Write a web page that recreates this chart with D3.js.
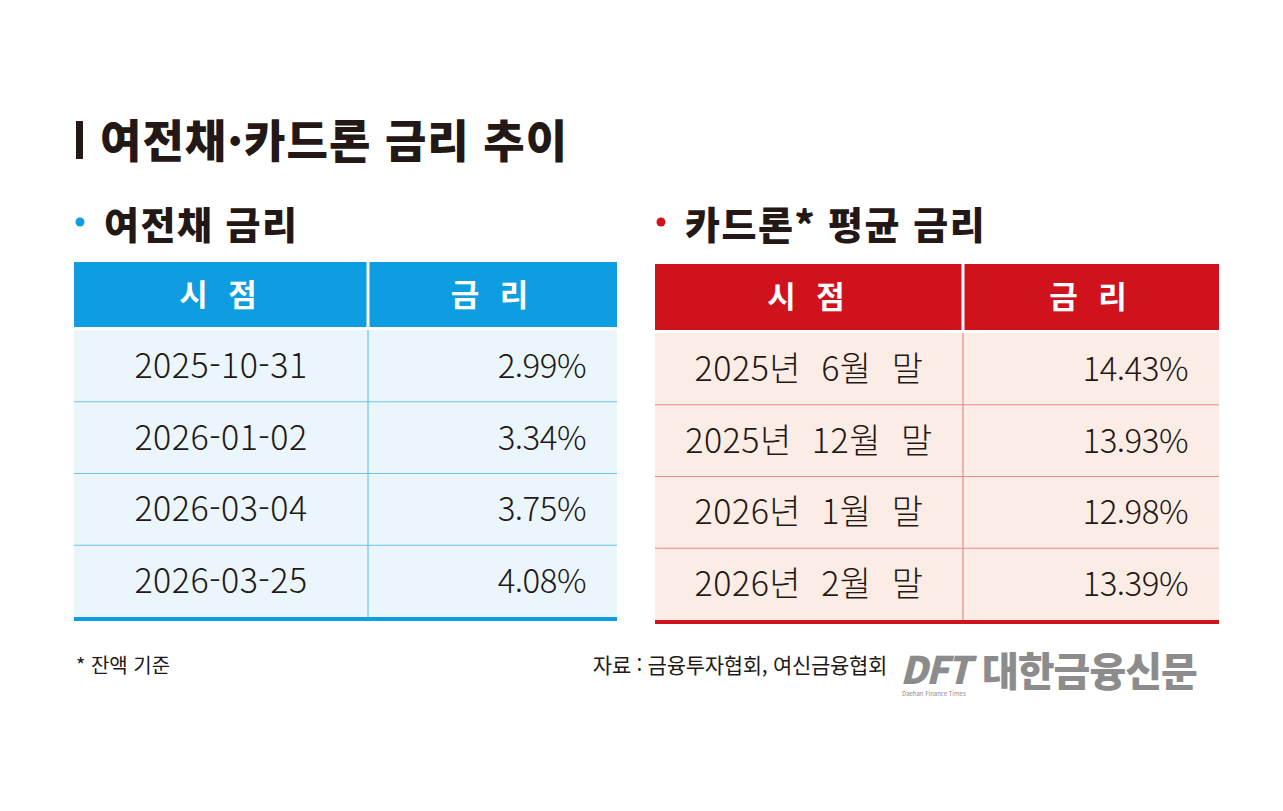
<!DOCTYPE html>
<html lang="ko">
<head>
<meta charset="UTF-8" />
<title>여전채·카드론 금리 추이</title>
<script src="https://d3js.org/d3.v7.min.js"></script>
<style>
  body { margin: 0; background: #fff; font-family: "Noto Sans CJK KR", "Noto Sans", sans-serif; }
</style>
</head>
<body>
<svg width="1283" height="811"></svg>
<script>
// data
var leftDates = ['2025-10-31', '2026-01-02', '2026-03-04', '2026-03-25'];
var leftRates = [2.99, 3.34, 3.75, 4.08];
var rightDates = ['2025년 6월 말', '2025년 12월 말', '2026년 1월 말', '2026년 2월 말'];
var rightRates = [14.43, 13.93, 12.98, 13.39];
var headers = ['시 점', '금 리'];

var svg = d3.select('svg');
svg.append('rect').attr('width', 1283).attr('height', 811).attr('fill', '#fff');

// title
svg.append('rect').attr('x', 76).attr('y', 121).attr('width', 7).attr('height', 38).attr('fill', '#231815');
svg.append('text').attr('x', 100).attr('y', 158).attr('font-size', 45).attr('font-weight', 900)
  .attr('fill', '#231815').attr('letter-spacing', 1).text('여전채·카드론 금리 추이');

function drawTable(opt) {
  var g = svg.append('g');
  g.append('circle').attr('cx', opt.x0 + 6).attr('cy', 222).attr('r', 4.5).attr('fill', opt.main);
  g.append('text').attr('x', opt.x0 + 30).attr('y', 239).attr('font-size', 38).attr('font-weight', 900)
    .attr('fill', '#231815').attr('letter-spacing', 1.5).text(opt.title);

  var y = d3.scaleBand().domain(d3.range(opt.dates.length)).range([opt.bodyTop, opt.bodyBottom]);
  // header
  g.append('rect').attr('x', opt.x0).attr('y', opt.headTop).attr('width', opt.x1 - opt.x0)
    .attr('height', opt.bodyTop - opt.headTop - 3).attr('fill', opt.main);
  g.append('line').attr('x1', opt.xDiv).attr('x2', opt.xDiv).attr('y1', opt.headTop).attr('y2', opt.bodyTop - 3)
    .attr('stroke', '#fff').attr('stroke-width', 3);
  var hy = (opt.headTop + opt.bodyTop - 3) / 2 + 11;
  g.append('text').attr('x', (opt.x0 + opt.xDiv) / 2).attr('y', hy).attr('text-anchor', 'middle')
    .attr('font-size', 31).attr('font-weight', 700).attr('fill', '#fff').attr('letter-spacing', 6).text(headers[0]);
  g.append('text').attr('x', (opt.xDiv + opt.x1) / 2).attr('y', hy).attr('text-anchor', 'middle')
    .attr('font-size', 31).attr('font-weight', 700).attr('fill', '#fff').attr('letter-spacing', 6).text(headers[1]);

  // body
  g.append('rect').attr('x', opt.x0).attr('y', opt.bodyTop).attr('width', opt.x1 - opt.x0)
    .attr('height', opt.bodyBottom - opt.bodyTop).attr('fill', opt.bg);
  var rows = g.selectAll('g.row').data(opt.dates).join('g').attr('class', 'row');
  rows.append('text').attr('x', (opt.x0 + opt.xDiv) / 2).attr('y', function (d, i) { return y(i) + y.bandwidth() / 2 + 12; })
    .attr('text-anchor', 'middle').attr('font-size', 34).attr('font-weight', 300).attr('fill', '#231815')
    .attr('letter-spacing', 0.5).attr('xml:space', 'preserve').text(function (d) { return d.replace(/ /g, '  '); });
  rows.append('text').attr('x', opt.xVal).attr('y', function (d, i) { return y(i) + y.bandwidth() / 2 + 12; })
    .attr('text-anchor', 'end').attr('font-size', 33).attr('font-weight', 300).attr('fill', '#231815')
    .attr('letter-spacing', -0.5).text(function (d, i) { return opt.rates[i].toFixed(2) + '%'; });
  g.selectAll('line.sep').data(d3.range(1, opt.dates.length)).join('line').attr('class', 'sep')
    .attr('x1', opt.x0).attr('x2', opt.x1).attr('y1', function (i) { return y(i); }).attr('y2', function (i) { return y(i); })
    .attr('stroke', opt.line).attr('stroke-width', 1.2);
  g.append('line').attr('x1', opt.xDiv).attr('x2', opt.xDiv).attr('y1', opt.bodyTop).attr('y2', opt.bodyBottom)
    .attr('stroke', opt.line).attr('stroke-width', 1.2);
  g.append('rect').attr('x', opt.x0).attr('y', opt.bodyBottom).attr('width', opt.x1 - opt.x0).attr('height', 4)
    .attr('fill', opt.main);
}

drawTable({ x0: 74, x1: 617, xDiv: 368, xVal: 586, headTop: 262, bodyTop: 330, bodyBottom: 617,
  main: '#0d9de0', bg: '#eaf6fc', line: '#6cc3ec', title: '여전채 금리', dates: leftDates, rates: leftRates });
drawTable({ x0: 655, x1: 1219, xDiv: 963, xVal: 1188, headTop: 264, bodyTop: 333, bodyBottom: 620,
  main: '#d0121c', bg: '#fcece6', line: '#e88a8a', title: '카드론* 평균 금리', dates: rightDates, rates: rightRates });

// footer
svg.append('text').attr('x', 76).attr('y', 673).attr('font-size', 20).attr('fill', '#231815').text('* 잔액 기준');
svg.append('text').attr('x', 887).attr('y', 673).attr('text-anchor', 'end').attr('font-size', 21)
  .attr('fill', '#231815').attr('letter-spacing', -0.3).text('자료 : 금융투자협회, 여신금융협회');
svg.append('text').attr('x', 900).attr('y', 684).attr('font-size', 38).attr('font-weight', 900)
  .attr('fill', '#8c8c8c').attr('letter-spacing', -2).attr('font-style', 'italic').text('DFT');
svg.append('text').attr('x', 982).attr('y', 686).attr('font-size', 40).attr('font-weight', 900)
  .attr('fill', '#8c8c8c').attr('letter-spacing', -1).text('대한금융신문');
svg.append('text').attr('x', 902).attr('y', 696).attr('font-size', 6).attr('fill', '#8c8c8c').text('Daehan Finance Times');
</script>
</body>
</html>
